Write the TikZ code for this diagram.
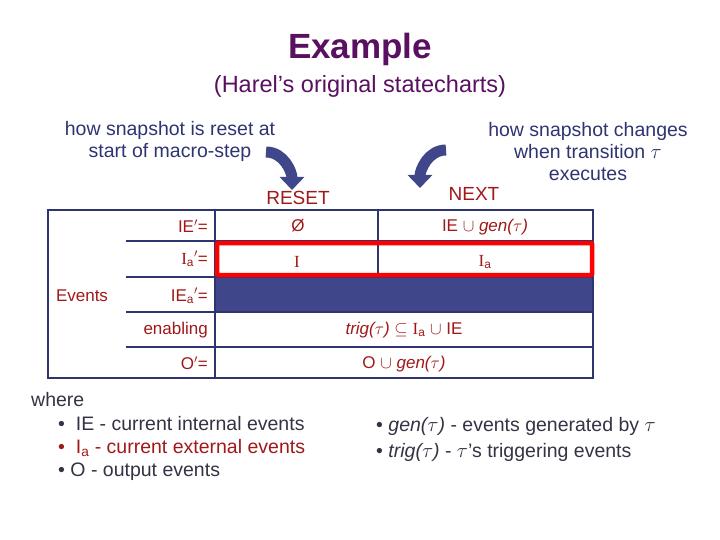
\documentclass[tikz,border=0pt]{standalone}
\usepackage{fontspec}
\setmainfont{Liberation Sans}
\newfontfamily\ser{Liberation Serif}
\usetikzlibrary{arrows.meta}
\definecolor{dred}{HTML}{A01818}
\definecolor{navy}{HTML}{2E3470}
\definecolor{fillb}{HTML}{3F468A}
\definecolor{ttl}{HTML}{5A1060}
\definecolor{gtxt}{HTML}{333344}
\begin{document}
\begin{tikzpicture}[x=1pt,y=-1pt,
  lbl/.style={text=dred,font=\fontsize{17}{19}\selectfont,inner sep=0pt},
  ann/.style={text=navy,font=\fontsize{19.5}{22}\selectfont,align=center,inner sep=0pt},
  btxt/.style={text=gtxt,font=\fontsize{19.5}{22}\selectfont,anchor=west,inner sep=0pt},
  grid/.style={draw=navy,line width=1.3pt},
  bigarrow/.style={draw=fillb,line width=11pt,-{Triangle[width=24pt,length=13pt]}}]
\useasboundingbox (0,0) rectangle (720,540);
\node[text=ttl,font=\bfseries\fontsize{35}{40}\selectfont] (title) at (360,49) {Example};
\node[text=ttl,font=\fontsize{23.5}{26}\selectfont] (sub) at (360,86) {(Harel’s original statecharts)};
\node[ann] (annl) at (170,141) {how snapshot is reset at\\start of macro-step};
\node[ann] (annr) at (588,152) {how snapshot changes\\when transition $\tau$\\executes};
\coordinate (al) at (266,152);
\coordinate (alt) at (292,190);
\draw[bigarrow] (al) to[out=0,in=90] (alt);
\coordinate (ar) at (446,150);
\coordinate (art) at (420,188);
\draw[bigarrow] (ar) to[out=180,in=90] (art);
\node[text=dred,font=\fontsize{19}{21}\selectfont] (reset) at (298,198) {RESET};
\node[text=dred,font=\fontsize{19}{21}\selectfont] (next) at (474,194) {NEXT};
% table
\fill[fillb] (215,277) rectangle (593,312);
\draw[grid] (48,210) rectangle (593,378);
\draw[grid] (215,210) -- (215,378);
\draw[grid] (378,210) -- (378,277);
\foreach \y in {241,277,312,347} \draw[grid] (126,\y) -- (593,\y);
\draw[red,line width=4.5pt,rounded corners=1pt] (217,243) rectangle (592,275);
\node[lbl,anchor=east] (r1) at (208,226) {IE$'$=};
\node[lbl,anchor=east] (r2) at (208,259) {{\ser I}\textsubscript{a}$'$=};
\node[lbl,anchor=east] (r3) at (208,296) {IE\textsubscript{a}$'$=};
\node[lbl,anchor=east] (r4) at (208,330) {enabling};
\node[lbl,anchor=east] (r5) at (208,363) {O$'$=};
\node[lbl] (ev) at (82,296) {Events};
\node[lbl] (c11) at (298,226) {Ø};
\node[lbl] (c12) at (485,227) {IE $\cup$ \textit{gen($\tau$)}};
\node[lbl] (c21) at (297,262) {\ser I};
\node[lbl] (c22) at (485,262) {{\ser I}\textsubscript{a}};
\node[lbl] (c4) at (404,330) {\textit{trig($\tau$)} $\subseteq$ {\ser I}\textsubscript{a} $\cup$ IE};
\node[lbl] (c5) at (404,364) {O $\cup$ \textit{gen($\tau$)}};
% bottom
\node[btxt] (w) at (31,400) {where};
\node[btxt] (b1) at (58,424) {•\ \ IE - current internal events};
\node[btxt,text=dred] (b2) at (58,448) {•\ \ I\textsubscript{a} - current external events};
\node[btxt] (b3) at (58,472) {• O - output events};
\node[btxt] (b4) at (376,426) {• \textit{gen($\tau$)} - events generated by $\tau$};
\node[btxt] (b5) at (376,452) {• \textit{trig($\tau$)} - $\tau$’s triggering events};
\end{tikzpicture}
\end{document}
